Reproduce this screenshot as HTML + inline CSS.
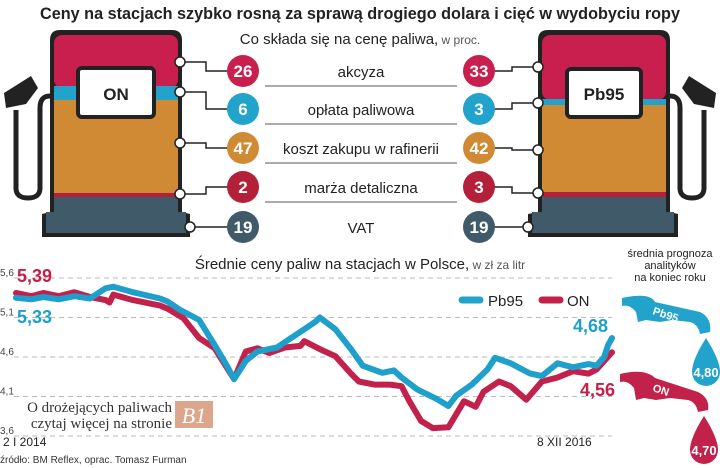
<!DOCTYPE html>
<html><head><meta charset="utf-8"><style>
body{margin:0;background:#fff;}
svg{display:block;font-family:"Liberation Sans",sans-serif;}
</style></head><body>
<svg id="c" width="720" height="468" viewBox="0 0 720 468">
<text x="360" y="19" text-anchor="middle" font-size="17" font-weight="bold" fill="#222" textLength="640" lengthAdjust="spacingAndGlyphs">Ceny na stacjach szybko rosną za sprawą drogiego dolara i cięć w wydobyciu ropy</text>
<text x="360" y="44" text-anchor="middle" font-size="15" fill="#222">Co składa się na cenę paliwa,<tspan font-size="12" fill="#555"> w proc.</tspan></text>

<!-- left pump -->
<g>
 <path d="M4,93 L31,76 L38,88 L26,104 L6,108 Z" fill="#222"/>
 <path d="M50,96 Q40,96 40,108 L40,188 Q40,198 28,198 Q16,198 16,188 L16,110" fill="none" stroke="#222" stroke-width="5"/>
 <path d="M50,40 Q50,30 60,30 L172,30 Q182,30 182,40 L182,212 L190,214 L190,237 L42,237 L42,214 L50,212 Z" fill="#222"/>
 <rect x="54" y="35" width="124" height="53" rx="8" fill="#c91f4e"/>
 <rect x="54" y="86" width="124" height="14" fill="#22a3cc"/>
 <rect x="54" y="100" width="124" height="93" fill="#d08a34"/>
 <rect x="54" y="193" width="124" height="4" fill="#b41f3a"/>
 <rect x="54" y="197" width="124" height="16" fill="#415a6a"/>
 <rect x="46" y="212" width="140" height="21" fill="#415a6a"/>
 <rect x="78" y="68" width="76" height="49" rx="4" fill="#fff" stroke="#222" stroke-width="4"/>
 <text x="116" y="100" text-anchor="middle" font-size="17" font-weight="bold" fill="#222">ON</text>
</g>
<!-- right pump -->
<g>
 <path d="M716,93 L689,76 L682,88 L694,104 L714,108 Z" fill="#222"/>
 <path d="M670,96 Q680,96 680,108 L680,188 Q680,198 692,198 Q704,198 704,188 L704,110" fill="none" stroke="#222" stroke-width="5"/>
 <path d="M538,40 Q538,30 548,30 L660,30 Q670,30 670,40 L670,212 L678,214 L678,237 L528,237 L528,214 L538,212 Z" fill="#222"/>
 <rect x="542" y="35" width="124" height="65" rx="8" fill="#c91f4e"/>
 <rect x="542" y="99" width="124" height="6" fill="#22a3cc"/>
 <rect x="542" y="105" width="124" height="87" fill="#d08a34"/>
 <rect x="542" y="192" width="124" height="5" fill="#b41f3a"/>
 <rect x="542" y="197" width="124" height="16" fill="#415a6a"/>
 <rect x="532" y="212" width="142" height="21" fill="#415a6a"/>
 <rect x="567" y="69" width="74" height="48" rx="4" fill="#fff" stroke="#222" stroke-width="4"/>
 <text x="604" y="100" text-anchor="middle" font-size="17" font-weight="bold" fill="#222">Pb95</text>
</g>
<g id="rows"></g>

<!-- chart -->
<text x="360" y="269" text-anchor="middle" font-size="15" fill="#222">Średnie ceny paliw na stacjach w Polsce,<tspan font-size="12" fill="#555"> w zł za litr</tspan></text>
<g id="grid"></g>
<g id="series"></g>
<g>
 <line x1="462" y1="300" x2="480" y2="300" stroke="#22a3cc" stroke-width="7" stroke-linecap="round"/>
 <text x="488" y="306" font-size="15" fill="#222">Pb95</text>
 <line x1="542" y1="300" x2="560" y2="300" stroke="#c2214c" stroke-width="7" stroke-linecap="round"/>
 <text x="567" y="306" font-size="15" fill="#222">ON</text>
</g>
<text x="17" y="323" font-size="18" font-weight="bold" fill="#1e9fcc">5,33</text>
<text x="17" y="282" font-size="18" font-weight="bold" fill="#c2214c">5,39</text>
<text x="573" y="332" font-size="18" font-weight="bold" fill="#1e9fcc">4,68</text>
<text x="580" y="396" font-size="18" font-weight="bold" fill="#c2214c">4,56</text>
<text x="3" y="446" font-size="12" fill="#222">2 I 2014</text>
<text x="537" y="446" font-size="12" fill="#222">8 XII 2016</text>
<text x="0" y="463" font-size="10" fill="#333">źródło: BM Reflex, oprac. Tomasz Furman</text>
<g>
 <text x="172" y="412" text-anchor="end" font-family="Liberation Serif,serif" font-size="15" fill="#333">O drożejących paliwach</text>
 <text x="172" y="428" text-anchor="end" font-family="Liberation Serif,serif" font-size="15" fill="#333">czytaj więcej na stronie</text>
 <rect x="175" y="401" width="38" height="27" fill="#dca68c"/>
 <text x="194" y="423" text-anchor="middle" font-family="Liberation Serif,serif" font-style="italic" font-size="22" fill="#fff">B1</text>
</g>
<!-- forecast -->
<text x="670" y="257" text-anchor="middle" font-size="11" fill="#222">średnia prognoza</text>
<text x="670" y="269" text-anchor="middle" font-size="11" fill="#222">analityków</text>
<text x="670" y="281" text-anchor="middle" font-size="11" fill="#222">na koniec roku</text>
<g>
 <path d="M622,298 Q650,292 655,302 L700,312 Q712,318 710,332 L700,334 Q698,324 690,322 L672,320 L660,322 L646,320 L638,322 L636,312 Q630,304 622,306 Z" fill="#22a3cc"/>
 <text x="652" y="314" font-size="11" font-weight="bold" fill="#fff" transform="rotate(18 652 314)">Pb95</text>
 <path d="M706,338 Q720,360 720,372 A14,14 0 0 1 692,372 Q692,360 706,338 Z" fill="#22a3cc"/>
 <text x="706" y="377" text-anchor="middle" font-size="13" font-weight="bold" fill="#fff">4,80</text>
</g>
<g>
 <path d="M620,374 Q645,368 655,378 L698,392 Q710,398 708,410 L698,412 Q696,402 688,400 L670,398 L656,400 L644,398 L636,400 L634,388 Q628,380 620,382 Z" fill="#c2214c"/>
 <text x="652" y="391" font-size="11" font-weight="bold" fill="#fff" transform="rotate(18 652 391)">ON</text>
 <path d="M704,416 Q718,438 718,450 A14,14 0 0 1 690,450 Q690,438 704,416 Z" fill="#c2214c"/>
 <text x="704" y="455" text-anchor="middle" font-size="13" font-weight="bold" fill="#fff">4,70</text>
</g>
</svg>
<script>
// composition data
const labels=["akcyza","opłata paliwowa","koszt zakupu w rafinerii","marża detaliczna","VAT"];
const onVals=[26,6,47,2,19];
const pbVals=[33,3,42,3,19];
const cols=["#c91f4e","#22a3cc","#d08a34","#b41f3a","#415a6a"];
// chart data: week index from 2 I 2014 and price
const pbWeeks=[0,4,7,11,15,19,23,25,30,37,39,42,47,51,54,56,59,62,67,70,74,77,78,82,86,89,94,97,99,103,108,111,113,117,121,123,127,132,135,139,143,147,149,151,152,153];
const pbVals2=[5.35,5.33,5.36,5.33,5.37,5.34,5.47,5.49,5.42,5.34,5.30,5.20,5.07,4.75,4.50,4.32,4.55,4.67,4.72,4.82,4.95,5.05,5.10,4.95,4.70,4.49,4.40,4.43,4.34,4.19,4.07,3.98,4.11,4.25,4.44,4.59,4.52,4.39,4.36,4.52,4.47,4.51,4.49,4.60,4.75,4.84];
const onWeeks=[0,4,7,11,15,19,23,24,25,30,37,39,43,47,51,56,59,62,65,69,73,74,78,82,86,88,92,96,99,101,104,107,111,115,118,120,124,127,131,135,139,143,147,149,153];
const onVals2=[5.41,5.37,5.41,5.37,5.42,5.36,5.32,5.29,5.39,5.32,5.25,5.21,5.09,4.84,4.71,4.32,4.67,4.71,4.65,4.72,4.74,4.80,4.70,4.61,4.39,4.29,4.25,4.25,4.23,4.04,3.79,3.70,3.71,4.04,3.97,4.16,4.29,4.23,4.06,4.29,4.34,4.42,4.39,4.44,4.66];
const yTicks=[5.6,5.1,4.6,4.1,3.6];
const tickLabels=["5,6","5,1","4,6","4,1","3,6"];

const NS="http://www.w3.org/2000/svg";
function mk(tag,attrs,parent){const e=document.createElementNS(NS,tag);for(const k in attrs)e.setAttribute(k,attrs[k]);parent.appendChild(e);return e;}
const xS=w=>16+w*(612-16)/153;
const yS=v=>278+(5.6-v)*79;

// rows
const rows=document.getElementById('rows');
const rowY=[71,109,148,187,227];
const lConn=[[180,62],[180,92],[180,143],[180,194],[190,227]];
const rConn=[[538,67],[538,103],[538,150],[538,193],[528,227]];
for(let i=0;i<labels.length;i++){
  const y=rowY[i];
  const pl=mk('path',{d:`M${lConn[i][0]},${lConn[i][1]} H206 V${y} H228`,fill:'none',stroke:'#222','stroke-width':1.5},rows);
  
  
  const pr=mk('path',{d:`M${rConn[i][0]},${rConn[i][1]} H512 V${y} H494`,fill:'none',stroke:'#222','stroke-width':1.5},rows);
  
  
  [lConn[i],rConn[i]].forEach(p=>{const c=mk('circle',{cx:p[0],cy:p[1],r:5,fill:'#fff',stroke:'#222','stroke-width':1.5},rows);
    
    });
  const b1=mk('circle',{cx:243,cy:y,r:16,fill:cols[i]},rows);
  
  
  const t1=mk('text',{x:243,y:y+6,'text-anchor':'middle','font-size':17,'font-weight':'bold',fill:'#fff'},rows);t1.textContent=onVals[i];
  
  
  const b2=mk('circle',{cx:479,cy:y,r:16,fill:cols[i]},rows);
  
  
  const t2=mk('text',{x:479,y:y+6,'text-anchor':'middle','font-size':17,'font-weight':'bold',fill:'#fff'},rows);t2.textContent=pbVals[i];
  
  
  const lb=mk('text',{x:361,y:y+6,'text-anchor':'middle','font-size':15,fill:'#222'},rows);lb.textContent=labels[i];
  
  
  if(i<4){const ln=mk('line',{x1:265,x2:457,y1:y+15,y2:y+15,stroke:'#555','stroke-width':1},rows);
    
    }
}
// grid
const grid=document.getElementById('grid');
yTicks.forEach((v,i)=>{
  const l=mk('line',{x1:14,x2:612,y1:yS(v),y2:yS(v),stroke:'#bbb','stroke-width':1,'stroke-dasharray':'5,4'},grid);
  
  
  const t=mk('text',{x:0,y:yS(v)-2,'font-size':10,fill:'#444'},grid);t.textContent=tickLabels[i];
  
  
});
// series
const ser=document.getElementById('series');
function line(ws,vs,col,name){
  const d=ws.map((w,i)=>(i?'L':'M')+xS(w).toFixed(1)+','+yS(vs[i]).toFixed(1)).join(' ');
  const p=mk('path',{d:d,fill:'none',stroke:col,'stroke-width':6,'stroke-linejoin':'round','stroke-linecap':'round'},ser);
  
  
}
line(onWeeks,onVals2,'#c2214c','on-line');
line(pbWeeks,pbVals2,'#1e9fcc','pb95-line');
</script>
</body></html>
